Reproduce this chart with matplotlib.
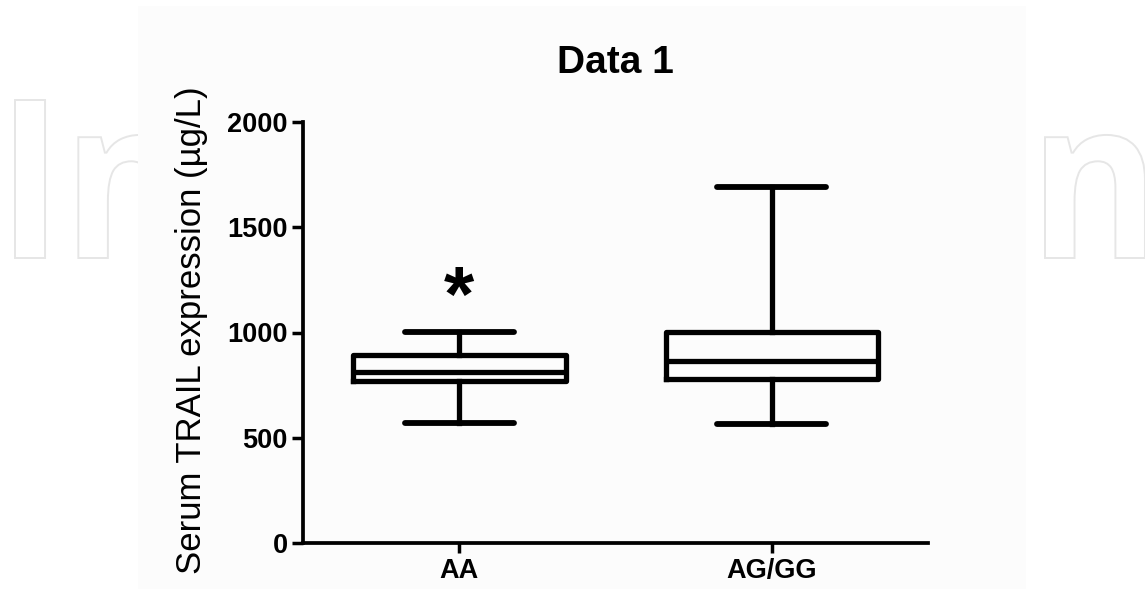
import matplotlib
matplotlib.use("Agg")
import matplotlib.pyplot as plt
from matplotlib.font_manager import FontProperties
from matplotlib.patches import PathPatch, Rectangle
from matplotlib.textpath import TextPath
from matplotlib.transforms import Affine2D, IdentityTransform

# box summary per genotype group
GROUPS = ["AA", "AG/GG"]
WHISKER_LOW = [570, 564]
Q1 = [770, 779]
MEDIAN = [812, 866]
Q3 = [892, 1004]
WHISKER_HIGH = [1004, 1690]
SIG_Y = 1225  # asterisk over AA
Y_TICKS = [0, 500, 1000, 1500, 2000]

W, H = 1145, 589
plt.rcParams["font.family"] = ["Liberation Sans", "DejaVu Sans"]

fig = plt.figure(figsize=(W / 100, H / 100), dpi=100)
fig.patch.set_facecolor("white")

# faint watermark outline behind the chart
prop = FontProperties(family="Open Sans", weight="bold")
full = TextPath((0, 0), "IntechOpen", size=1, prop=prop)
cap = TextPath((0, 0), "I", size=1, prop=prop)
nn = TextPath((0, 0), "n", size=1, prop=prop)
fb, cb, nb = full.get_extents(), cap.get_extents(), nn.get_extents()
last_n_left = fb.x1 - (nb.x1 - nb.x0)
sx = (1045 - 15) / (last_n_left - cb.x0)
sy = 158 / (cb.y1 - cb.y0)
tr = Affine2D().translate(-cb.x0, 0).scale(sx, sy).translate(15, H - 258)
wm = PathPatch(tr.transform_path(full), facecolor="none", edgecolor="#e6e6e6",
               lw=1.4, transform=IdentityTransform(), zorder=-3)
fig.add_artist(wm)
fig.add_artist(Rectangle((138, 0), 1026 - 138, H - 6, facecolor="#fcfcfc",
                         edgecolor="none", transform=IdentityTransform(), zorder=-2))

ax = fig.add_axes([303 / W, 46 / H, 625 / W, 421 / H])
ax.set_facecolor("none")

stats = []
for i, g in enumerate(GROUPS):
    stats.append({"label": g, "whislo": WHISKER_LOW[i], "q1": Q1[i], "med": MEDIAN[i],
                  "q3": Q3[i], "whishi": WHISKER_HIGH[i], "fliers": []})

lw = 3.8
ax.bxp(stats, positions=[1, 2], widths=0.68, capwidths=0.35, showfliers=False,
       boxprops=dict(color="black", lw=lw, solid_joinstyle="round"),
       whiskerprops=dict(color="black", lw=lw),
       capprops=dict(color="black", lw=4.2, solid_capstyle="round"),
       medianprops=dict(color="black", lw=lw))

ax.annotate("*", xy=(1, SIG_Y), xytext=(0, -11), textcoords="offset points",
            ha="center", va="center", fontsize=56, fontweight="bold")

ax.set_xlim(0.5, 2.5)
ax.set_ylim(0, 2000)
ax.set_yticks(Y_TICKS)
ax.set_xticks([1, 2])
ax.set_xticklabels(GROUPS)
for s in ["top", "right"]:
    ax.spines[s].set_visible(False)
for s in ["left", "bottom"]:
    ax.spines[s].set_linewidth(2.7)
ax.tick_params(axis="y", length=8, width=2.5, pad=3, labelsize=19.5)
ax.tick_params(axis="x", length=7, width=2.5, pad=4, labelsize=19.5)
for lab in ax.get_xticklabels() + ax.get_yticklabels():
    lab.set_fontweight("bold")

ax.set_title("Data 1", fontsize=28, fontweight="bold", pad=35)
fig.text(192 / W, 1 - 86 / H, "Serum TRAIL expression (\u00b5g/L)", rotation=90,
         ha="center", va="top", fontsize=25)

fig.savefig("out.png", dpi=100)
